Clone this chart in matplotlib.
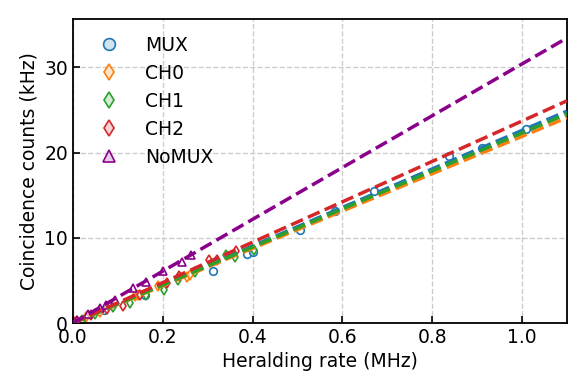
import numpy as np
import matplotlib
matplotlib.use("Agg")
import matplotlib.pyplot as plt

# Dados (MHz, kHz)
mux_x = [0.02, 0.07, 0.16, 0.311, 0.387, 0.402, 0.506, 0.584, 0.671, 0.838, 0.911, 1.009]
mux_y = [0.4, 1.5, 3.3, 6.1, 8.1, 8.35, 10.9, 13.2, 15.5, 19.6, 20.5, 22.8]

ch0_x = [0.01, 0.03, 0.06, 0.09, 0.138, 0.145, 0.19, 0.253, 0.26]
ch0_y = [0.2, 0.7, 1.3, 2.0, 3.2, 3.3, 4.3, 5.4, 5.6]

ch1_x = [0.02, 0.05, 0.09, 0.127, 0.162, 0.202, 0.234, 0.271, 0.342, 0.362, 0.404]
ch1_y = [0.4, 1.0, 1.9, 2.3, 3.3, 3.9, 5.0, 6.0, 8.0, 7.8, 8.6]

ch2_x = [0.005, 0.04, 0.075, 0.111, 0.15, 0.209, 0.236, 0.302, 0.322, 0.364]
ch2_y = [0.1, 0.9, 1.6, 2.0, 3.3, 4.7, 5.5, 7.4, 7.4, 8.4]

nomux_x = [0.008, 0.034, 0.06, 0.073, 0.093, 0.133, 0.162, 0.2, 0.242, 0.264]
nomux_y = [0.3, 1.0, 1.8, 2.1, 2.7, 4.1, 4.8, 6.1, 7.2, 8.0]

# Inclinações dos ajustes lineares (kHz/MHz)
slopes = {"MUX": 22.6, "CH0": 21.9, "CH1": 22.3, "CH2": 23.7, "NoMUX": 30.4}

series = [
    ("MUX", mux_x, mux_y, "o", "#1f77b4"),
    ("CH0", ch0_x, ch0_y, "d", "#ff7f0e"),
    ("CH1", ch1_x, ch1_y, "d", "#2ca02c"),
    ("CH2", ch2_x, ch2_y, "d", "#d62728"),
    ("NoMUX", nomux_x, nomux_y, "^", "#8b008b"),
]

plt.rcParams["font.size"] = 13.5

fig, ax = plt.subplots(figsize=(5.88, 3.92), dpi=100)
xfit = np.linspace(0, 1.1, 50)

for name, x, y, m, c in series:
    ax.plot(x, y, m, color=c, mfc=(1, 1, 1, 0.6), mec=c, mew=1.2, ms=5.5,
            linestyle="none", label=name, zorder=2)
for name, x, y, m, c in series:
    ax.plot(xfit, slopes[name] * xfit, "--", color=c, lw=2.5, zorder=3)

ax.set_xlim(0, 1.1)
ax.set_ylim(0, 35.7)
ax.set_xticks([0.0, 0.2, 0.4, 0.6, 0.8, 1.0])
ax.set_yticks([0, 10, 20, 30])
ax.tick_params(direction="in", length=5, width=1.2)
for s in ax.spines.values():
    s.set_linewidth(1.3)
ax.grid(True, linestyle="--", color="#cccccc", lw=1)
ax.set_axisbelow(True)
ax.set_xlabel("Heralding rate (MHz)")
ax.set_ylabel("Coincidence counts (kHz)")

leg = ax.legend(loc="upper left", frameon=False, handletextpad=0.95,
                borderaxespad=0.5, labelspacing=0.48)
for h in leg.legend_handles:
    c = h.get_markeredgecolor()
    h.set_markerfacecolor(matplotlib.colors.to_rgba(c, 0.2))
    h.set_markersize(8.5)

fig.subplots_adjust(left=0.124, right=0.964, top=0.952, bottom=0.176)
fig.savefig("out.png", dpi=100)
